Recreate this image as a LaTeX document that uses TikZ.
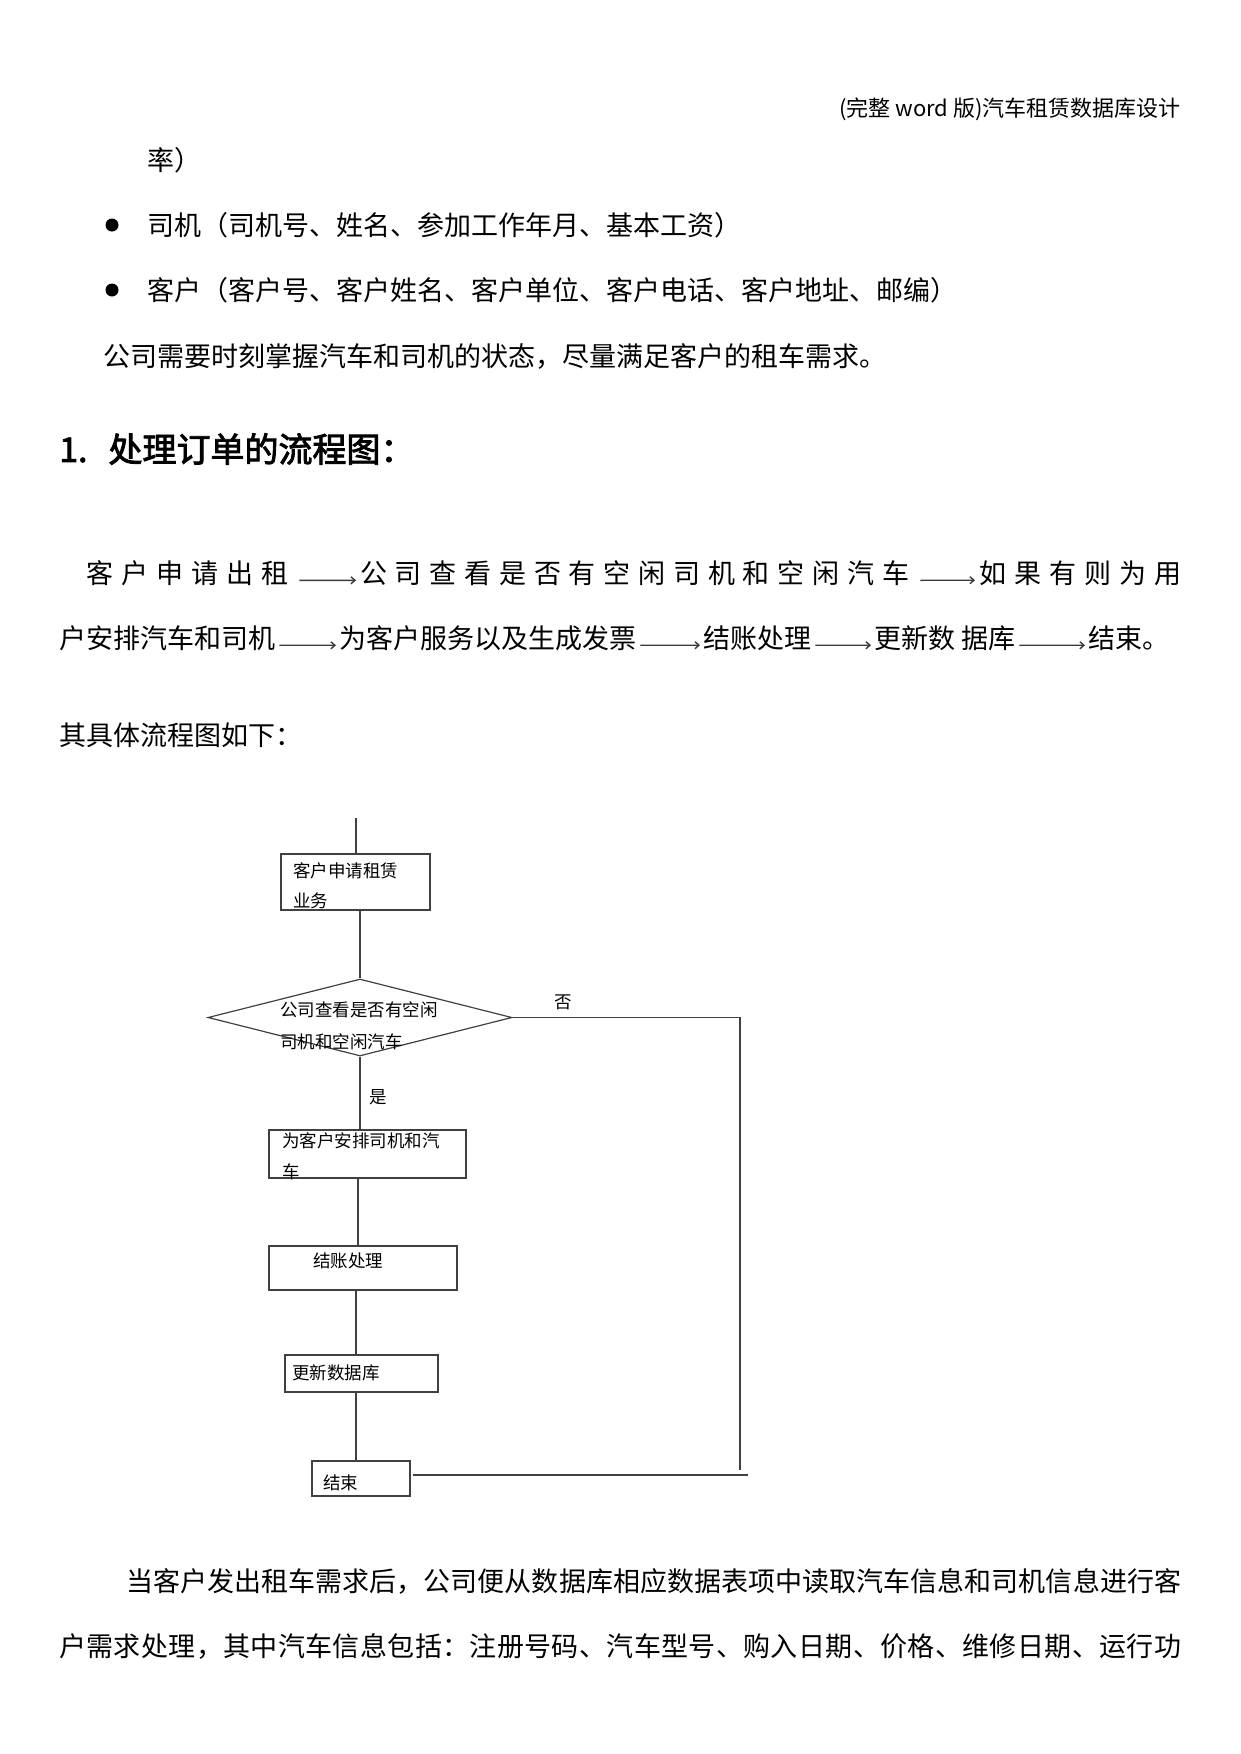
\documentclass[tikz,border=0pt]{standalone}
\usepackage{fontspec}
\setmainfont{Noto Sans CJK SC}
\newfontfamily\headfont{Noto Sans CJK SC}[FakeBold=2.5]
\usetikzlibrary{shapes.geometric,arrows.meta}
\def\gobbleone#1{}
\def\sprd#1{\sprdA#1\relax}
\def\sprdA#1#2{#1\ifx\relax#2\expandafter\gobbleone\else\hfil\expandafter\sprdA\fi#2}
\definecolor{linec}{HTML}{404040}
\definecolor{arrc}{HTML}{3A3A3A}
\tikzset{
  body/.style={font=\fontsize{27}{32}\selectfont, anchor=west, inner sep=0pt},
  hdr/.style={font=\fontsize{22}{26}\selectfont, anchor=east, inner sep=0pt},
  headsty/.style={font=\headfont\fontsize{34}{40}\selectfont, anchor=west, inner sep=0pt},
  small/.style={font=\fontsize{17.5}{20}\selectfont, anchor=west, inner sep=0pt},
  lbl/.style={font=\fontsize{17.5}{20}\selectfont, inner sep=0pt},
  procbox/.style={draw=linec, line width=1.2pt, rectangle, inner sep=0pt},
  decbox/.style={draw=linec, line width=1.2pt, diamond, inner sep=0pt, minimum width=304pt, minimum height=77pt},
  conn/.style={draw=linec, line width=1.2pt},
  tarrow/.style={draw=arrc, line width=1.4pt, -{Straight Barb[length=4pt,width=7pt]}},
  bdot/.style={circle, fill=black, minimum size=13pt, inner sep=0pt},
}
\begin{document}
\begin{tikzpicture}[x=1pt,y=-1pt]
\fill[white] (0,0) rectangle (1241,1754);
\useasboundingbox (0,0) rectangle (1241,1754);

% header
\node[hdr] (hd) at (1181,109) {(完整 word 版)汽车租赁数据库设计};

% text lines
\node[body] (r0) at (147,160) {率）};
\node[bdot] (b1) at (112,225) {};
\node[body] (r1) at (147,225) {司机（司机号、姓名、参加工作年月、基本工资）};
\node[bdot] (b2) at (112,290) {};
\node[body] (r2) at (147,290) {客户（客户号、客户姓名、客户单位、客户电话、客户地址、邮编）};
\node[body] (r3) at (103,356) {公司需要时刻掌握汽车和司机的状态，尽量满足客户的租车需求。};
\node[headsty] (h1) at (59,449) {1.\hspace{21pt}处理订单的流程图：};

% flow text line 1
\node[body] (l1a) at (86,573) {\makebox[202pt][s]{\sprd{客户申请出租}}};
\node[body] (l1b) at (360,573) {\makebox[549pt][s]{\sprd{公司查看是否有空闲司机和空闲汽车}}};
\node[body] (l1c) at (979,573) {\makebox[202pt][s]{\sprd{如果有则为用}}};
\draw[tarrow, shorten <=11pt, shorten >=4pt] ([yshift=3pt]l1a.base east) -- ([yshift=3pt]l1b.base west);
\draw[tarrow, shorten <=11pt, shorten >=4pt] ([yshift=3pt]l1b.base east) -- ([yshift=3pt]l1c.base west);

% flow text line 2
\node[body] (l2a) at (59,638) {户安排汽车和司机};
\node[body] (l2b) at (339,638) {为客户服务以及生成发票};
\node[body] (l2c) at (703,638) {结账处理};
\node[body] (l2d) at (874,638) {更新数 据库};
\node[body] (l2e) at (1088,638) {结束。};
\draw[tarrow, shorten <=4pt, shorten >=3pt] ([yshift=3pt]l2a.base east) -- ([yshift=3pt]l2b.base west);
\draw[tarrow, shorten <=4pt, shorten >=3pt] ([yshift=3pt]l2b.base east) -- ([yshift=3pt]l2c.base west);
\draw[tarrow, shorten <=4pt, shorten >=3pt] ([yshift=3pt]l2c.base east) -- ([yshift=3pt]l2d.base west);
\draw[tarrow, shorten <=4pt, shorten >=3pt] ([yshift=3pt]l2d.base east) -- ([yshift=3pt]l2e.base west);

\node[body] (r4) at (59,735) {其具体流程图如下：};

% flowchart
\coordinate (top) at (356,818);
\node[procbox, minimum width=149pt, minimum height=56pt] (box1) at (355.5,882) {};
\node[small] (t1a) at (293,871) {客户申请租赁};
\node[small] (t1b) at (293,901) {业务};

\node[decbox] (dia) at (360,1017.5) {};
\node[small] (t2a) at (280,1010) {公司查看是否有空闲};
\node[small] (t2b) at (280,1042) {司机和空闲汽车};

\node[procbox, minimum width=197pt, minimum height=48pt] (box3) at (367.5,1154) {};
\node[small] (t3a) at (282,1141) {为客户安排司机和汽};
\node[small] (t3b) at (282,1172) {车};

\node[procbox, minimum width=188pt, minimum height=44pt] (box4) at (363,1268) {};
\node[small] (t4) at (313,1261) {结账处理};

\node[procbox, minimum width=153pt, minimum height=37pt] (box5) at (361.5,1373.5) {};
\node[small] (t5) at (292,1373) {更新数据库};

\node[procbox, minimum width=98pt, minimum height=35pt] (box6) at (361,1478.5) {};
\node[small] (t6) at (323,1483) {结束};

\node[lbl] (yes) at (378,1097) {是};
\node[lbl] (no) at (563,1002) {否};

\coordinate (sp) at (358,0);
\coordinate (sp2) at (356,0);
\coordinate (se) at (740,1470);
\coordinate (be) at (748,1475);

\draw[conn] (top) -- (top |- box1.north);
\draw[conn] (box1.south -| dia.north) -- (dia.north);
\draw[conn] (dia.south) -- (dia.south |- box3.north);
\draw[conn] (box3.south -| sp) -- (box4.north -| sp);
\draw[conn] (box4.south -| sp2) -- (box5.north -| sp2);
\draw[conn] (box5.south -| sp2) -- (box6.north -| sp2);
\draw[conn] (dia.east) -| (se);
\draw[conn, shorten <=2pt] (box6.east |- be) -- (be);

% bottom paragraph
\node[body] (p1) at (126,1581) {\makebox[1055pt][s]{\sprd{当客户发出租车需求后，公司便从数据库相应数据表项中读取汽车信息和司机信息进行客}}};
\node[body] (p2) at (59,1646) {\makebox[1122pt][s]{\sprd{户需求处理，其中汽车信息包括：注册号码、汽车型号、购入日期、价格、维修日期、运行功}}};
\end{tikzpicture}
\end{document}
